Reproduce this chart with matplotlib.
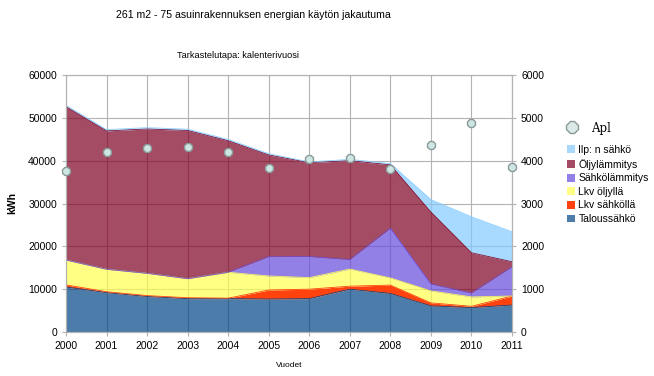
import numpy as np
import matplotlib
matplotlib.use("Agg")
import matplotlib.pyplot as plt
from matplotlib.patches import Patch
from matplotlib.lines import Line2D

plt.rcParams['font.family'] = ['Liberation Sans', 'DejaVu Sans']

years = list(range(2000, 2012))

# stacked series (kWh), bottom to top
talous = [10500, 9200, 8300, 7800, 7800, 7700, 7800, 10000, 9000, 6100, 5700, 6300]
lkv_sahko = [500, 200, 200, 200, 100, 2100, 2200, 700, 1950, 700, 300, 2100]
lkv_oljy = [5800, 5250, 5200, 4450, 6050, 3280, 2700, 4000, 1670, 2800, 2200, 0]
sahkolammitys = [0, 0, 0, 0, 0, 4500, 4900, 2200, 11600, 1600, 900, 6800]
oljylammitys = [35800, 32300, 33700, 34600, 30700, 23750, 21950, 23100, 14800, 16800, 9400, 1200]
ilp = [300, 300, 300, 300, 300, 300, 150, 300, 300, 2900, 8400, 7000]

# Apl on secondary axis
apl = [3760, 4200, 4300, 4320, 4200, 3830, 4040, 4060, 3810, 4370, 4880, 3850]

series = [talous, lkv_sahko, lkv_oljy, sahkolammitys, oljylammitys, ilp]
names = ['Taloussähkö', 'Lkv sähköllä', 'Lkv öljyllä', 'Sähkölämmitys', 'Öljylämmitys', 'Ilp: n sähkö']
colors = ['#004586', '#ff420e', '#ffff50', '#664ade', '#7e0021', '#83caff']
alphas = [0.7, 1.0, 0.7, 0.7, 0.7, 0.7]

fig = plt.figure(figsize=(6.54, 3.76), dpi=100)
ax = fig.add_axes([66/654, 44/376, 446/654, 257/376])

grid_col = '#b3b3b3'
ax.set_axisbelow(True)
ax.grid(True, color=grid_col, linewidth=0.8)

bottom = np.zeros(len(years))
for vals, c, a in zip(series, colors, alphas):
    top = bottom + np.array(vals)
    ax.fill_between(years, bottom, top, color=c, alpha=a, linewidth=0)
    ax.plot(years, top, color=c, alpha=min(1, a + 0.2), linewidth=0.6)
    bottom = top

ax.set_xlim(2000, 2011)
ax.set_ylim(0, 60000)
ax.set_xticks(years)
ax.set_yticks(range(0, 60001, 10000))
ax.tick_params(labelsize=7.5, color=grid_col, length=3)
for s in ax.spines.values():
    s.set_color(grid_col)
ax.set_ylabel('kWh', fontsize=7.5, fontweight='bold', labelpad=8)
ax.set_xlabel('Vuodet', fontsize=6, labelpad=8)

ax2 = ax.twinx()
ax2.set_ylim(0, 6000)
ax2.set_yticks(range(0, 6001, 1000))
ax2.tick_params(labelsize=7.5, color=grid_col, length=3)
for s in ax2.spines.values():
    s.set_color(grid_col)
ax2.scatter(years, apl, marker='8', s=38, facecolor='#cfe7e4', edgecolor='#8a9a98',
            linewidth=1.0, zorder=5, clip_on=False)

fig.text(253/654, 1 - 15/376, '261 m2 - 75 asuinrakennuksen energian käytön jakautuma',
         ha='center', va='center', fontsize=7.6)
fig.text(238/654, 1 - 55/376, 'Tarkastelutapa: kalenterivuosi', ha='center', va='center',
         fontsize=6.6)

# legend for Apl (serif)
h_apl = [Line2D([], [], marker='8', linestyle='none', markersize=9,
                markerfacecolor='#dbeae8', markeredgecolor='#8a9a98')]
leg1 = fig.legend(h_apl, ['Apl'], loc='center left', bbox_to_anchor=(560/654, 1 - 128/376),
                  frameon=False, prop={'family': 'DejaVu Serif', 'size': 8.5},
                  handletextpad=0.6, borderpad=0, borderaxespad=0)

handles = [Patch(facecolor=c, alpha=a, edgecolor='none') for c, a in zip(colors, alphas)][::-1]
leg2 = fig.legend(handles, names[::-1], loc='upper left', bbox_to_anchor=(567/654, 1 - 145/376),
                  frameon=False, fontsize=7.5, handlelength=0.8, handleheight=0.8,
                  handletextpad=0.3, labelspacing=0.35, borderpad=0, borderaxespad=0)

fig.savefig('out.png', dpi=100)
